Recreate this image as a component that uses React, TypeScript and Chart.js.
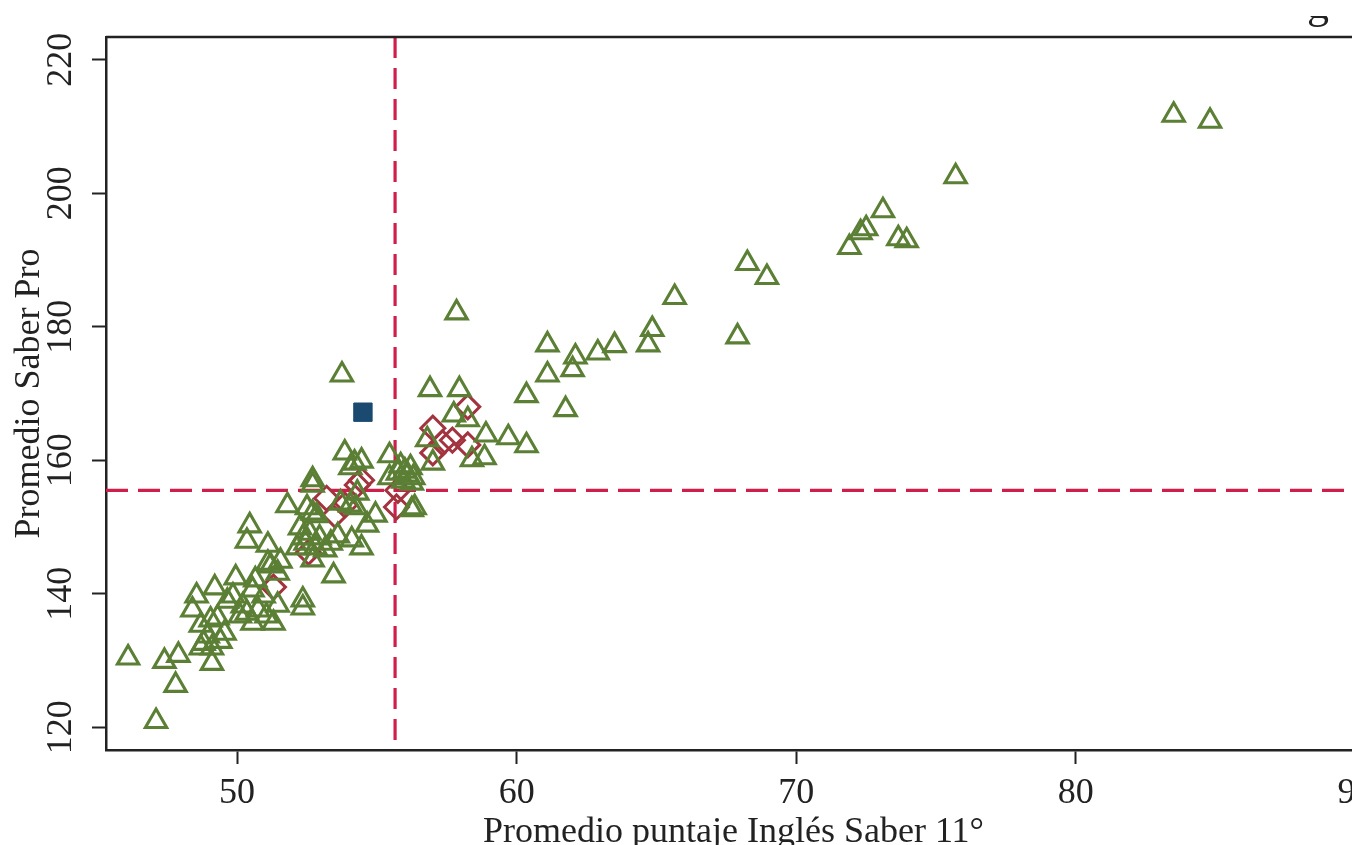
import React, { useEffect, useRef } from "react";
import { Chart, registerables } from "chart.js";

Chart.register(...registerables);

// Green triangles (main group)
const triX = [
  83.5, 84.8, 75.7, 73.1, 72.5, 72.3, 71.9, 73.65, 73.95, 68.25, 68.95, 65.65, 67.9, 64.85, 64.7, 63.5,
  62.9, 62.1, 62.0, 61.1, 61.1, 61.75, 60.35, 57.85, 53.75, 56.9, 57.95, 57.75, 58.25, 58.9, 59.7, 60.35,
  58.4, 58.85, 57.0, 56.8, 55.45, 55.45, 55.85, 56.0, 56.1, 55.95, 56.2, 56.3, 55.75, 56.25, 56.25, 56.35,
  54.95, 54.65, 53.85, 54.2, 54.45, 54.05, 52.7, 54.45, 54.1, 53.6, 53.45, 53.7, 54.05, 54.25, 54.3,
  52.5, 52.7, 52.85, 52.25, 52.6, 52.95, 53.35, 52.45, 52.8, 53.15, 52.15, 52.35, 52.7, 51.8, 50.45,
  50.35, 51.1, 51.1, 51.55, 51.45, 52.35, 52.35, 51.45, 49.95, 50.65, 49.85, 50.55, 50.2, 50.75, 51.05,
  51.3, 50.55, 50.1, 52.7, 46.1, 47.4, 47.9, 47.8, 47.1, 49.1, 48.55, 48.4, 49.2, 48.7, 49.05, 49.3,
  48.8, 49.4, 49.55, 48.7, 49.1, 48.95, 49.65, 50.35, 51.2, 50.95,
];
const triY = [
  211.7, 210.8, 202.5, 197.4, 194.7, 194.1, 191.9, 193.2, 192.9, 189.5, 187.4, 184.4, 178.5, 179.6, 177.3, 177.2,
  176.1, 175.5, 173.6, 177.3, 172.8, 167.6, 169.7, 182.1, 172.8, 170.6, 170.6, 166.8, 166.1, 163.8, 163.4, 162.2,
  160.1, 160.4, 159.6, 163.1, 160.7, 157.4, 159.2, 158.4, 157.8, 156.9, 158.9, 157.4, 158.1, 156.6, 152.6, 152.9,
  151.8, 150.3, 161.1, 159.6, 159.9, 158.9, 157.1, 146.9, 148.1, 148.7, 142.7, 153.6, 153.3, 152.9, 155.1,
  152.9, 152.1, 151.7, 149.9, 149.1, 148.4, 147.6, 147.6, 146.9, 146.6, 146.9, 148.4, 156.3, 153.2, 150.2,
  147.9, 147.3, 144.6, 144.9, 143.1, 139.1, 137.9, 138.3, 142.4, 142.1, 139.7, 140.6, 138.2, 137.6, 136.7,
  135.6, 135.6, 136.7, 145.1, 130.4, 129.9, 130.8, 126.3, 120.9, 129.6, 139.7, 137.6, 140.9, 135.3, 136.1, 136.4,
  132.6, 132.9, 134.1, 131.9, 131.9, 133.7, 138.9, 137.1, 144.2, 139.7,
];

// Red diamonds
const diaX = [58.25, 57.0, 57.7, 58.25, 57.35, 57.0, 54.45, 54.3, 55.7, 53.2, 53.5, 51.3, 52.55, 53.85, 55.75];
const diaY = [168.0, 164.8, 163.0, 162.3, 162.6, 161.1, 157.0, 156.3, 153.0, 154.3, 151.8, 141.0, 146.2, 153.3, 155.5];

// Blue square
const sqX = [54.5];
const sqY = [167.2];

// Reference lines (means)
const refX = 55.65;
const refY = 155.5;

// Axes
const xRange = [45.31, 90.2];
const yRange = [116.6, 223.4];
const xTicks = [50, 60, 70, 80, 90];
const yTicks = [120, 140, 160, 180, 200, 220];
const xTitle = "Promedio puntaje Inglés Saber 11°";
const yTitle = "Promedio Saber Pro";
const cutText = "g";

const FONT = "'Liberation Serif', 'Times New Roman', serif";
const TEXT = "#222222";
const GREEN = "#5b7f34";
const RED = "#a2333f";
const BLUE = "#1b4a70";
const DASH = "#d01e4c";

const pts = (xs: number[], ys: number[]) => xs.map((x, i) => ({ x, y: ys[i] }));

const CW = 1400;
const CH = 880;

export default function App() {
  const ref = useRef<HTMLCanvasElement | null>(null);

  useEffect(() => {
    const canvas = ref.current;
    if (!canvas) return;

    const extras = {
      id: "extras",
      afterDraw(chart: any) {
        const { ctx, chartArea } = chart;
        const ys = chart.scales.y;
        ctx.save();
        // top frame line
        ctx.strokeStyle = TEXT;
        ctx.lineWidth = 2.5;
        ctx.beginPath();
        ctx.moveTo(chartArea.left, chartArea.top);
        ctx.lineTo(chartArea.right, chartArea.top);
        ctx.stroke();
        // rotated y tick labels
        ctx.fillStyle = TEXT;
        ctx.font = `36px ${FONT}`;
        ctx.textAlign = "center";
        ctx.textBaseline = "middle";
        for (const t of ys.ticks) {
          const py = ys.getPixelForValue(t.value);
          ctx.save();
          ctx.translate(chartArea.left - 44, py);
          ctx.rotate(-Math.PI / 2);
          ctx.fillText(String(t.value), 0, 0);
          ctx.restore();
        }
        // clipped fragment of text above the figure
        ctx.save();
        ctx.beginPath();
        ctx.rect(1295, 16, 50, 20);
        ctx.clip();
        ctx.font = `44px ${FONT}`;
        ctx.textAlign = "center";
        ctx.textBaseline = "alphabetic";
        ctx.fillText(cutText, 1318, 18);
        ctx.restore();
        ctx.restore();
      },
    };

    const chart = new Chart(canvas, {
      type: "scatter",
      data: {
        datasets: [
          {
            label: "hline",
            data: [
              { x: xRange[0], y: refY },
              { x: xRange[1], y: refY },
            ],
            showLine: true,
            borderColor: DASH,
            borderWidth: 3.2,
            borderDash: [22, 10],
            pointRadius: 0,
            order: 10,
          } as any,
          {
            label: "vline",
            data: [
              { x: refX, y: yRange[1] },
              { x: refX, y: yRange[0] },
            ],
            showLine: true,
            borderColor: DASH,
            borderWidth: 3.2,
            borderDash: [21, 10],
            pointRadius: 0,
            order: 9,
          } as any,
          {
            label: "diamonds",
            data: pts(diaX, diaY),
            pointStyle: "rectRot",
            pointRadius: 12,
            pointBorderWidth: 3,
            borderColor: RED,
            backgroundColor: "rgba(0,0,0,0)",
            order: 3,
          },
          {
            label: "triangles",
            data: pts(triX, triY),
            pointStyle: "triangle",
            pointRadius: 12.3,
            pointBorderWidth: 3.1,
            borderColor: GREEN,
            backgroundColor: "rgba(0,0,0,0)",
            order: 2,
          },
          {
            label: "square",
            data: pts(sqX, sqY),
            pointStyle: "rect",
            pointRadius: 13,
            pointBorderWidth: 1,
            borderColor: BLUE,
            backgroundColor: BLUE,
            order: 1,
          },
        ],
      },
      options: {
        responsive: false,
        animation: false,
        devicePixelRatio: 1,
        events: [],
        layout: { padding: { top: 37, right: CW - 1361, left: 0, bottom: 0 } },
        plugins: {
          legend: { display: false },
          tooltip: { enabled: false },
        },
        scales: {
          x: {
            type: "linear",
            min: xRange[0],
            max: xRange[1],
            afterBuildTicks: (s: any) => {
              s.ticks = xTicks.map((v) => ({ value: v }));
            },
            afterFit: (s: any) => {
              s.height = CH - 750;
            },
            ticks: {
              font: { family: FONT, size: 36 },
              color: TEXT,
              padding: 8,
              maxRotation: 0,
              autoSkip: false,
            },
            grid: {
              drawOnChartArea: false,
              drawTicks: true,
              tickLength: 14,
              tickWidth: 2,
              color: TEXT,
            },
            border: { display: true, color: TEXT, width: 2.5 },
            title: {
              display: true,
              text: xTitle,
              font: { family: FONT, size: 36 },
              color: TEXT,
              padding: { top: 0, bottom: 26 },
            },
          },
          y: {
            type: "linear",
            min: yRange[0],
            max: yRange[1],
            afterBuildTicks: (s: any) => {
              s.ticks = yTicks.map((v) => ({ value: v }));
            },
            afterFit: (s: any) => {
              s.width = 106;
            },
            ticks: { display: false },
            grid: {
              drawOnChartArea: false,
              drawTicks: true,
              tickLength: 14,
              tickWidth: 2,
              color: TEXT,
            },
            border: { display: true, color: TEXT, width: 2.5 },
            title: {
              display: true,
              text: yTitle,
              font: { family: FONT, size: 36 },
              color: TEXT,
              padding: { top: 8, bottom: 0 },
            },
          },
        },
      } as any,
      plugins: [extras],
    });

    return () => chart.destroy();
  }, []);

  return (
    <div
      style={{
        position: "fixed",
        left: 0,
        top: 0,
        width: 1352,
        height: 845,
        overflow: "hidden",
        background: "#ffffff",
      }}
    >
      <canvas ref={ref} width={CW} height={CH} style={{ width: CW, height: CH, display: "block" }} />
    </div>
  );
}
